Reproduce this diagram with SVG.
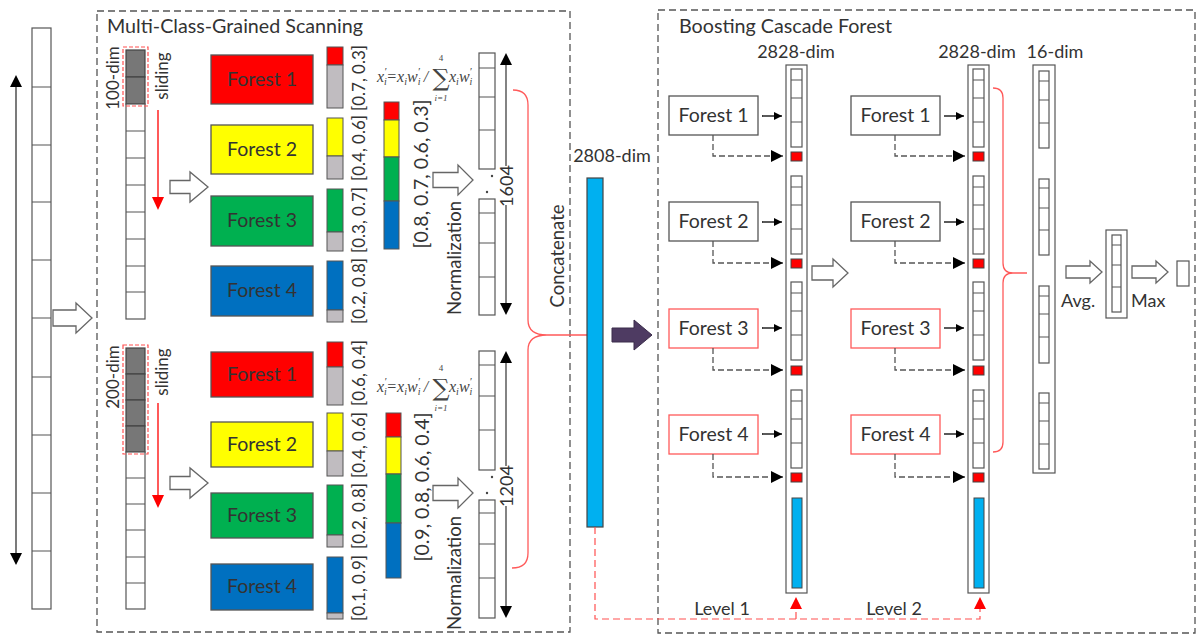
<svg xmlns="http://www.w3.org/2000/svg" width="1199" height="635" viewBox="0 0 1199 635">
<style>
text{font-family:Lato,"Liberation Sans",sans-serif;fill:#333;}
.t{font-size:18px;}
.f{font-size:19.5px;}
.ttl{font-size:19.7px;}
.c{text-anchor:middle;}
.lbl{font-size:17px;text-anchor:middle;dominant-baseline:central;}
.box{fill:none;stroke:#555;stroke-width:1.3;stroke-dasharray:7 4;}
.cell{fill:#fff;stroke:#555;stroke-width:1.2;}
.gcell{fill:#777;stroke:#444;stroke-width:1.2;}
.ln{stroke:#555;stroke-width:1.2;}
.bar{stroke:#555;stroke-width:1;}
.oa{fill:#fff;stroke:#666;stroke-width:1.3;}
.fb{stroke:#555;stroke-width:1.3;}
.cf{fill:#fff;stroke:#555;stroke-width:1.3;}
.cfr{fill:#fff;stroke:#ff5a5a;stroke-width:1.3;}
.rdash{fill:none;stroke:#ff5050;stroke-width:1.2;stroke-dasharray:4 2;}
.brace{fill:none;stroke:#ff5a5a;stroke-width:1.3;}
.dsh{fill:none;stroke:#555;stroke-width:1.3;stroke-dasharray:6 3;}
.sol{stroke:#000;stroke-width:1.3;}
.fm{font-family:"Liberation Serif",serif;font-style:italic;font-size:16px;fill:#444;}
.sg{font-family:"DejaVu Serif","Liberation Serif",serif;font-size:24px;fill:#444;text-anchor:middle;}
.sm{font-family:"Liberation Serif",serif;font-size:9px;fill:#444;text-anchor:middle;}
</style>
<defs>
<marker id="ah" viewBox="0 0 10 10" refX="10" refY="5" markerWidth="8" markerHeight="8" markerUnits="userSpaceOnUse" orient="auto"><path d="M0,0 L10,5 L0,10 Z" fill="#000"/></marker>
<marker id="ahb" viewBox="0 0 10 10" refX="10" refY="5" markerWidth="12" markerHeight="12" markerUnits="userSpaceOnUse" orient="auto"><path d="M0,0 L10,5 L0,10 Z" fill="#000"/></marker>
</defs>

<!-- frames -->
<g id="frames">
<rect class="box" x="97" y="11" width="473" height="621"/>
<text class="ttl" x="107" y="33">Multi-Class-Grained Scanning</text>
<rect class="box" x="658" y="10" width="537" height="623"/>
<text class="ttl" x="679" y="33">Boosting Cascade Forest</text>
</g>

<!-- input column -->
<g id="input">
<rect class="cell" x="32" y="28" width="19" height="581"/>
<path class="ln" d="M32,87H51M32,145H51M32,202H51M32,260H51M32,318H51M32,377H51M32,435H51M32,493H51M32,551H51"/>
<line x1="16" y1="85" x2="16" y2="555" stroke="#333" stroke-width="1.3"/>
<path d="M16,75 L10,87 L22,87 Z M16,565 L10,553 L22,553 Z" fill="#000"/>
</g>

<!-- scanning windows -->
<g id="window100">
<rect class="gcell" x="126" y="50" width="19" height="27"/>
<rect class="gcell" x="126" y="77" width="19" height="27"/>
<rect class="cell" x="126" y="104" width="19" height="215"/>
<path class="ln" d="M126,131H145M126,158H145M126,185H145M126,212H145M126,239H145M126,266H145M126,292H145"/>
<rect class="rdash" x="123" y="47" width="25" height="59"/>
<text class="lbl" transform="rotate(-90 112 78)" x="112" y="78">100-dim</text>
<text class="lbl" transform="rotate(-90 161 76)" x="161" y="76">sliding</text>
<line x1="158" y1="110" x2="158" y2="198" stroke="#f00" stroke-width="1.3"/>
<path d="M158,210 L152,197 L164,197 Z" fill="#f00"/>
</g>
<g id="window200">
<rect class="gcell" x="126" y="348" width="19" height="26"/>
<rect class="gcell" x="126" y="374" width="19" height="26"/>
<rect class="gcell" x="126" y="400" width="19" height="26"/>
<rect class="gcell" x="126" y="426" width="19" height="26"/>
<rect class="cell" x="126" y="452" width="19" height="157"/>
<path class="ln" d="M126,478H145M126,504H145M126,530H145M126,557H145M126,583H145"/>
<rect class="rdash" x="123" y="345" width="25" height="109"/>
<text class="lbl" transform="rotate(-90 112 377)" x="112" y="377">200-dim</text>
<text class="lbl" transform="rotate(-90 161 372)" x="161" y="372">sliding</text>
<line x1="158" y1="403" x2="158" y2="496" stroke="#f00" stroke-width="1.3"/>
<path d="M158,508 L152,495 L164,495 Z" fill="#f00"/>
</g>

<!-- open arrows -->
<g id="open-arrows">
<path class="oa" d="M53,310H76V303L92,318L76,333V326H53Z"/>
<path class="oa" d="M170,180.5H190V172L208,187L190,202V193.5H170Z"/>
<path class="oa" d="M170,476.5H190V468L208,483L190,498V489.5H170Z"/>
<path class="oa" d="M433,172.5H458V165L473,180L458,195V187.5H433Z"/>
<path class="oa" d="M433,485.5H458V478L473,493L458,508V500.5H433Z"/>
<path class="oa" d="M812,266H833V259L848,273L833,287V280H812Z"/>
<path class="oa" d="M1066,266H1090V261L1102,272L1090,283V278H1066Z"/>
<path class="oa" d="M1132,266H1156V261L1168,272L1156,283V278H1132Z"/>
<path d="M612,328H634V320L652,335L634,350V342H612Z" fill="#4e3b62" stroke="#3a2c4a" stroke-width="1"/>
</g>

<!-- top forests -->
<g id="forest-top-1"><rect class="fb" x="211" y="55" width="102" height="49" fill="#f00"/><text class="f c" x="262" y="86">Forest 1</text></g>
<g id="forest-top-2"><rect class="fb" x="211" y="125" width="102" height="49" fill="#ff0"/><text class="f c" x="262" y="156">Forest 2</text></g>
<g id="forest-top-3"><rect class="fb" x="211" y="196" width="102" height="50" fill="#00b050"/><text class="f c" x="262" y="227">Forest 3</text></g>
<g id="forest-top-4"><rect class="fb" x="211" y="266" width="102" height="50" fill="#0070c0"/><text class="f c" x="262" y="297">Forest 4</text></g>

<g id="bars-top">
<rect class="bar" x="327" y="47" width="16" height="18" fill="#f00"/><rect class="bar" x="327" y="65" width="16" height="43" fill="#c0bcc0"/>
<rect class="bar" x="327" y="118" width="16" height="38" fill="#ff0"/><rect class="bar" x="327" y="156" width="16" height="23" fill="#c0bcc0"/>
<rect class="bar" x="327" y="189" width="16" height="43" fill="#00b050"/><rect class="bar" x="327" y="232" width="16" height="19" fill="#c0bcc0"/>
<rect class="bar" x="327" y="261" width="16" height="49" fill="#0070c0"/><rect class="bar" x="327" y="310" width="16" height="12" fill="#c0bcc0"/>
<text class="lbl" transform="rotate(-90 358 78)" x="358" y="78">[0.7, 0.3]</text>
<text class="lbl" transform="rotate(-90 358 148)" x="358" y="148">[0.4, 0.6]</text>
<text class="lbl" transform="rotate(-90 358 220)" x="358" y="220">[0.3, 0.7]</text>
<text class="lbl" transform="rotate(-90 358 291)" x="358" y="291">[0.2, 0.8]</text>
<rect class="bar" x="384" y="102" width="15" height="18" fill="#f00"/>
<rect class="bar" x="384" y="120" width="15" height="37" fill="#ff0"/>
<rect class="bar" x="384" y="157" width="15" height="44" fill="#00b050"/>
<rect class="bar" x="384" y="201" width="15" height="48" fill="#0070c0"/>
<text class="lbl" style="font-size:19.5px" transform="rotate(-90 420 174)" x="420" y="174">[0.8, 0.7, 0.6, 0.3]</text>
</g>

<!-- bottom forests -->
<g id="forest-bot-1"><rect class="fb" x="211" y="352" width="102" height="45" fill="#f00"/><text class="f c" x="262" y="381">Forest 1</text></g>
<g id="forest-bot-2"><rect class="fb" x="211" y="422" width="102" height="45" fill="#ff0"/><text class="f c" x="262" y="451">Forest 2</text></g>
<g id="forest-bot-3"><rect class="fb" x="211" y="493" width="102" height="45" fill="#00b050"/><text class="f c" x="262" y="522">Forest 3</text></g>
<g id="forest-bot-4"><rect class="fb" x="211" y="564" width="102" height="46" fill="#0070c0"/><text class="f c" x="262" y="593">Forest 4</text></g>

<g id="bars-bot">
<rect class="bar" x="327" y="342" width="16" height="25" fill="#f00"/><rect class="bar" x="327" y="367" width="16" height="38" fill="#c0bcc0"/>
<rect class="bar" x="327" y="413" width="16" height="38" fill="#ff0"/><rect class="bar" x="327" y="451" width="16" height="25" fill="#c0bcc0"/>
<rect class="bar" x="327" y="485" width="16" height="50" fill="#00b050"/><rect class="bar" x="327" y="535" width="16" height="12" fill="#c0bcc0"/>
<rect class="bar" x="327" y="557" width="16" height="56" fill="#0070c0"/><rect class="bar" x="327" y="613" width="16" height="6" fill="#c0bcc0"/>
<text class="lbl" transform="rotate(-90 358 373)" x="358" y="373">[0.6, 0.4]</text>
<text class="lbl" transform="rotate(-90 358 445)" x="358" y="445">[0.4, 0.6]</text>
<text class="lbl" transform="rotate(-90 358 516)" x="358" y="516">[0.2, 0.8]</text>
<text class="lbl" transform="rotate(-90 358 588)" x="358" y="588">[0.1, 0.9]</text>
<rect class="bar" x="386" y="413" width="15" height="24" fill="#f00"/>
<rect class="bar" x="386" y="437" width="15" height="37" fill="#ff0"/>
<rect class="bar" x="386" y="474" width="15" height="49" fill="#00b050"/>
<rect class="bar" x="386" y="523" width="15" height="55" fill="#0070c0"/>
<text class="lbl" style="font-size:19.5px" transform="rotate(-90 421 487)" x="421" y="487">[0.9, 0.8, 0.6, 0.4]</text>
</g>

<!-- formulas -->
<g id="formula-top">
<text class="fm" x="377" y="82">x<tspan font-size="10" dy="3">i</tspan><tspan font-size="11" dx="-3" dy="-10">′</tspan><tspan dy="7">=x</tspan><tspan font-size="10" dy="3">i</tspan><tspan dy="-3">w</tspan><tspan font-size="10" dy="3">i</tspan><tspan font-size="11" dx="-3" dy="-10">′</tspan><tspan dy="7"> /</tspan></text>
<text class="sg" x="441" y="86">∑</text>
<text class="sm" x="441" y="61">4</text>
<text class="sm" style="font-style:italic" x="441" y="101">i=1</text>
<text class="fm" x="449" y="82">x<tspan font-size="10" dy="3">i</tspan><tspan dy="-3">w</tspan><tspan font-size="10" dy="3">i</tspan><tspan font-size="11" dx="-3" dy="-10">′</tspan></text>
</g>
<g id="formula-bot">
<text class="fm" x="377" y="392">x<tspan font-size="10" dy="3">i</tspan><tspan font-size="11" dx="-3" dy="-10">′</tspan><tspan dy="7">=x</tspan><tspan font-size="10" dy="3">i</tspan><tspan dy="-3">w</tspan><tspan font-size="10" dy="3">i</tspan><tspan font-size="11" dx="-3" dy="-10">′</tspan><tspan dy="7"> /</tspan></text>
<text class="sg" x="441" y="396">∑</text>
<text class="sm" x="441" y="371">4</text>
<text class="sm" style="font-style:italic" x="441" y="411">i=1</text>
<text class="fm" x="449" y="392">x<tspan font-size="10" dy="3">i</tspan><tspan dy="-3">w</tspan><tspan font-size="10" dy="3">i</tspan><tspan font-size="11" dx="-3" dy="-10">′</tspan></text>
</g>

<text class="lbl" style="font-size:18.5px" transform="rotate(-90 454 258)" x="454" y="258">Normalization</text>
<text class="lbl" style="font-size:18.5px" transform="rotate(-90 454 573)" x="454" y="573">Normalization</text>

<!-- normalized outputs -->
<g id="norm-top">
<rect class="cell" x="479" y="53" width="16" height="116"/>
<path class="ln" d="M479,68H495M479,97H495M479,130H495"/>
<rect class="cell" x="479" y="199" width="16" height="116"/>
<path class="ln" d="M479,213H495M479,243H495M479,277H495"/>
<circle cx="492" cy="176" r="1.2" fill="#444"/><circle cx="487" cy="192" r="1.2" fill="#444"/>
<path d="M506,63V166M506,205V305" stroke="#333" stroke-width="1.2"/>
<path d="M506,53L500,65H512Z M506,315L500,303H512Z" fill="#000"/>
<text class="lbl" style="font-size:18px" transform="rotate(-90 506 186)" x="506" y="186">1604</text>
</g>
<g id="norm-bot">
<rect class="cell" x="479" y="351" width="16" height="119"/>
<path class="ln" d="M479,365H495M479,396H495M479,430H495"/>
<rect class="cell" x="479" y="500" width="16" height="118"/>
<path class="ln" d="M479,513H495M479,544H495M479,578H495"/>
<circle cx="492" cy="477" r="1.2" fill="#444"/><circle cx="487" cy="493" r="1.2" fill="#444"/>
<path d="M506,361V466M506,506V608" stroke="#333" stroke-width="1.2"/>
<path d="M506,351L500,363H512Z M506,618L500,606H512Z" fill="#000"/>
<text class="lbl" style="font-size:18px" transform="rotate(-90 506 486)" x="506" y="486">1204</text>
</g>

<!-- concatenation -->
<g id="concat">
<path class="brace" d="M513,90Q528,90 528,105V320Q528,335 547,335Q528,335 528,350V553Q528,568 512,568M547,335H587"/>
<text class="lbl" style="font-size:18.5px" transform="rotate(-90 557 256)" x="557" y="256">Concatenate</text>
<rect x="587" y="178" width="16" height="349" fill="#00b0f0" stroke="#444" stroke-width="1.2"/>
<text class="t c" x="612" y="162">2808-dim</text>
</g>

<!-- level 1 -->
<g id="level1">
<rect class="cell" x="786" y="65" width="21" height="528"/>
<text class="t c" x="796" y="58">2828-dim</text>
<rect class="cell" x="791" y="69" width="11" height="78"/><path class="ln" d="M791,80H802M791,98H802M791,122H802"/>
<rect x="791" y="152" width="11" height="9" fill="#f00" stroke="#444" stroke-width="1"/>
<rect class="cell" x="791" y="176" width="11" height="78"/><path class="ln" d="M791,187H802M791,205H802M791,229H802"/>
<rect x="791" y="259" width="11" height="9" fill="#f00" stroke="#444" stroke-width="1"/>
<rect class="cell" x="791" y="282" width="11" height="78"/><path class="ln" d="M791,293H802M791,311H802M791,335H802"/>
<rect x="791" y="366" width="11" height="9" fill="#f00" stroke="#444" stroke-width="1"/>
<rect class="cell" x="791" y="390" width="11" height="78"/><path class="ln" d="M791,401H802M791,419H802M791,443H802"/>
<rect x="791" y="473" width="11" height="9" fill="#f00" stroke="#444" stroke-width="1"/>
<rect x="792" y="498" width="10" height="90" fill="#00b0f0" stroke="#444" stroke-width="1"/>
<text class="t c" x="722" y="615">Level 1</text>
</g>
<g id="l1-forest1"><rect class="cf" x="669" y="96" width="89" height="39"/><text class="f c" x="713.5" y="122">Forest 1</text></g>
<g id="l1-forest2"><rect class="cf" x="669" y="202" width="89" height="39"/><text class="f c" x="713.5" y="228">Forest 2</text></g>
<g id="l1-forest3"><rect class="cfr" x="669" y="309" width="89" height="39"/><text class="f c" x="713.5" y="335">Forest 3</text></g>
<g id="l1-forest4"><rect class="cfr" x="669" y="415" width="89" height="39"/><text class="f c" x="713.5" y="441">Forest 4</text></g>

<!-- level 2 -->
<g id="level2">
<rect class="cell" x="968" y="65" width="21" height="528"/>
<text class="t c" x="977" y="58">2828-dim</text>
<rect class="cell" x="973" y="69" width="11" height="78"/><path class="ln" d="M973,80H984M973,98H984M973,122H984"/>
<rect x="973" y="152" width="11" height="9" fill="#f00" stroke="#444" stroke-width="1"/>
<rect class="cell" x="973" y="176" width="11" height="78"/><path class="ln" d="M973,187H984M973,205H984M973,229H984"/>
<rect x="973" y="259" width="11" height="9" fill="#f00" stroke="#444" stroke-width="1"/>
<rect class="cell" x="973" y="282" width="11" height="78"/><path class="ln" d="M973,293H984M973,311H984M973,335H984"/>
<rect x="973" y="366" width="11" height="9" fill="#f00" stroke="#444" stroke-width="1"/>
<rect class="cell" x="973" y="390" width="11" height="78"/><path class="ln" d="M973,401H984M973,419H984M973,443H984"/>
<rect x="973" y="473" width="11" height="9" fill="#f00" stroke="#444" stroke-width="1"/>
<rect x="974" y="498" width="10" height="90" fill="#00b0f0" stroke="#444" stroke-width="1"/>
<text class="t c" x="894" y="615">Level 2</text>
</g>
<g id="l2-forest1"><rect class="cf" x="851" y="96" width="89" height="39"/><text class="f c" x="895.5" y="122">Forest 1</text></g>
<g id="l2-forest2"><rect class="cf" x="851" y="202" width="89" height="39"/><text class="f c" x="895.5" y="228">Forest 2</text></g>
<g id="l2-forest3"><rect class="cfr" x="851" y="309" width="89" height="39"/><text class="f c" x="895.5" y="335">Forest 3</text></g>
<g id="l2-forest4"><rect class="cfr" x="851" y="415" width="89" height="39"/><text class="f c" x="895.5" y="441">Forest 4</text></g>

<!-- output -->
<g id="dim16">
<path class="brace" d="M993,88Q1003,88 1003,98V263Q1003,273 1013,273H1027M1013,273Q1003,273 1003,283V442Q1003,452 993,452"/>
<rect class="cell" x="1033" y="65" width="22" height="408"/>
<text class="t c" x="1055" y="58">16-dim</text>
<rect class="cell" x="1039" y="71" width="10" height="77"/><path class="ln" d="M1039,81H1049M1039,100H1049M1039,123H1049"/>
<rect class="cell" x="1039" y="179" width="10" height="76"/><path class="ln" d="M1039,188H1049M1039,208H1049M1039,230H1049"/>
<rect class="cell" x="1039" y="286" width="10" height="77"/><path class="ln" d="M1039,296H1049M1039,314H1049M1039,337H1049"/>
<rect class="cell" x="1039" y="393" width="10" height="76"/><path class="ln" d="M1039,403H1049M1039,421H1049M1039,444H1049"/>
</g>
<g id="avg">
<text class="t" x="1061" y="307">Avg.</text>
<rect class="cell" x="1106" y="230" width="21" height="88"/>
<rect class="cell" x="1112" y="235" width="9" height="77"/><path class="ln" d="M1112,245H1121M1112,265H1121M1112,287H1121"/>
</g>
<g id="max">
<text class="t" x="1131" y="307">Max</text>
<rect class="cell" x="1177" y="261" width="12" height="25"/>
</g>

<!-- connectors -->
<g id="connectors">
<line class="sol" x1="762" y1="116" x2="782" y2="116" marker-end="url(#ah)"/>
<line class="sol" x1="762" y1="222" x2="782" y2="222" marker-end="url(#ah)"/>
<line class="sol" x1="762" y1="328" x2="782" y2="328" marker-end="url(#ah)"/>
<line class="sol" x1="762" y1="434" x2="782" y2="434" marker-end="url(#ah)"/>
<line class="sol" x1="944" y1="116" x2="964" y2="116" marker-end="url(#ah)"/>
<line class="sol" x1="944" y1="222" x2="964" y2="222" marker-end="url(#ah)"/>
<line class="sol" x1="944" y1="328" x2="964" y2="328" marker-end="url(#ah)"/>
<line class="sol" x1="944" y1="434" x2="964" y2="434" marker-end="url(#ah)"/>
<path class="dsh" d="M713,135V156H783" marker-end="url(#ahb)"/>
<path class="dsh" d="M713,241V263H783" marker-end="url(#ahb)"/>
<path class="dsh" d="M713,348V370H783" marker-end="url(#ahb)"/>
<path class="dsh" d="M713,454V477H783" marker-end="url(#ahb)"/>
<path class="dsh" d="M895,135V156H965" marker-end="url(#ahb)"/>
<path class="dsh" d="M895,241V263H965" marker-end="url(#ahb)"/>
<path class="dsh" d="M895,348V370H965" marker-end="url(#ahb)"/>
<path class="dsh" d="M895,454V477H965" marker-end="url(#ahb)"/>
<path d="M595,527V619H980V608M796,619V608" fill="none" stroke="#ff5050" stroke-width="1.2" stroke-dasharray="7 4"/>
<path d="M796,597L790,609H802Z M980,597L974,609H986Z" fill="#f00"/>
</g>
</svg>
